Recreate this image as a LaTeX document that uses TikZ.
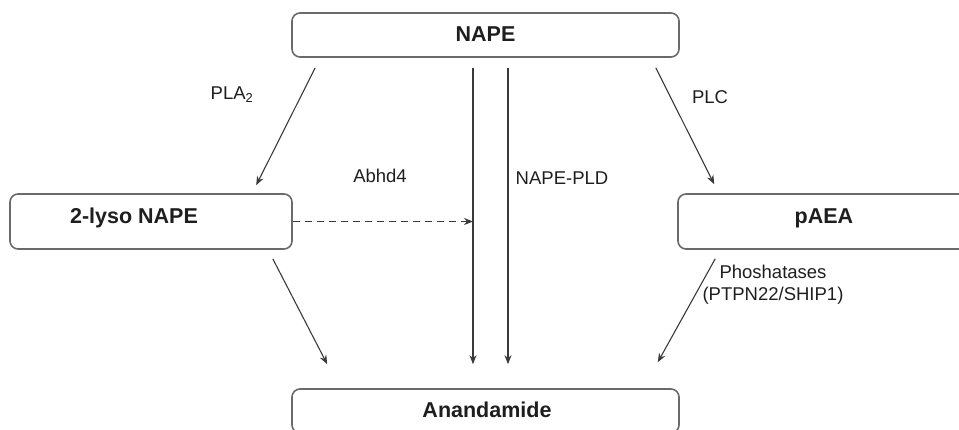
\documentclass[tikz,border=0pt]{standalone}
\usepackage{fontspec}
\setmainfont{Liberation Sans}
\usetikzlibrary{arrows.meta,calc}
\definecolor{boxline}{HTML}{6A6A6A}
\definecolor{arrline}{HTML}{3A3A3A}
\definecolor{txt}{HTML}{1E1E1E}
\begin{document}
\begin{tikzpicture}[x=1pt,y=-1pt,
  box/.style={draw=boxline,line width=1.6pt,rounded corners=8pt,inner sep=0pt,fill=white},
  boxtext/.style={text=txt,font=\fontsize{21.5}{24}\selectfont\bfseries,inner sep=0pt},
  lab/.style={text=txt,font=\fontsize{18.5}{22}\selectfont,inner sep=0pt},
  arr/.style={draw=arrline,line width=1.1pt,-{Stealth[length=9pt,width=7pt]}}]
\useasboundingbox (0,0) rectangle (959,429);
\clip (0,0) rectangle (959,429);
% boxes
\node[box,minimum width=387pt,minimum height=44pt] (nape) at (485.5,35) {};
\node[boxtext] (napet) at (485.5,34.5) {NAPE};
\node[box,minimum width=282pt,minimum height=55pt] (lyso) at (151,221.5) {};
\node[boxtext] (lysot) at (134,218) {2-lyso NAPE};
\node[box,minimum width=292pt,minimum height=55pt] (paea) at (824,221.5) {};
\node[boxtext] (paeat) at (824,218) {pAEA};
\node[box,minimum width=387pt,minimum height=44pt] (anand) at (485.5,411) {};
\node[boxtext] (anandt) at (487,410) {Anandamide};
% helper coordinates on the NAPE-PLD lines
\coordinate (p1) at ([xshift=-12.5pt,yshift=-10pt]nape.south);
\coordinate (p2) at ([xshift=22.5pt,yshift=-10pt]nape.south);
% connectors
\draw[arr] ([xshift=24pt,yshift=-10pt]nape.south west) -- ([xshift=247pt,yshift=8pt]lyso.north west);
\draw[arr] ([xshift=-24pt,yshift=-10pt]nape.south east) -- ([xshift=37pt,yshift=9pt]paea.north west);
\draw[arr] (p1) -- ([yshift=24pt]p1 |- anand.north);
\draw[arr] (p2) -- ([yshift=24pt]p2 |- anand.north);
\draw[arr,dashed,dash pattern=on 7pt off 5pt] (lyso.east) -- (lyso.east -| p1);
\draw[arr] ([xshift=-20pt,yshift=-9pt]lyso.south east) -- ([xshift=36pt,yshift=24pt]anand.north west);
\draw[arr] ([xshift=38pt,yshift=-9pt]paea.south west) -- ([xshift=-22pt,yshift=26pt]anand.north east);
% labels
\node[lab] (pla) at (232,95) {PLA\textsubscript{2}};
\node[lab] (plc) at (710,97) {PLC};
\node[lab] (abhd) at (380,176) {Abhd4};
\node[lab] (pld) at (562,178) {NAPE-PLD};
\node[lab,align=center] (phos) at (773,285) {Phoshatases\\(PTPN22/SHIP1)};
\end{tikzpicture}
\end{document}
